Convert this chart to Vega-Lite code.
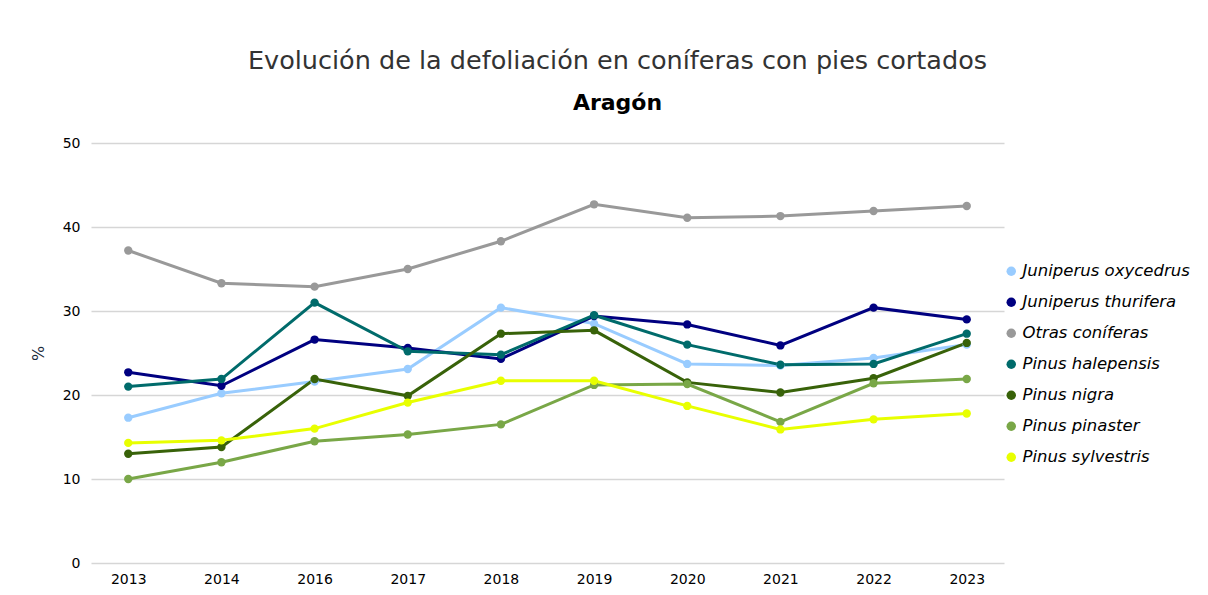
{
  "$schema": "https://vega.github.io/schema/vega-lite/v6.json",
  "width": 913,
  "height": 420,
  "autosize": {"type": "none"},
  "padding": {"left": 91, "top": 143, "right": 204, "bottom": 32},
  "background": "white",
  "title": {
    "text": "Evolución de la defoliación en coníferas con pies cortados",
    "subtitle": "Aragón",
    "anchor": "middle",
    "frame": "group",
    "dx": 70,
    "offset": 22,
    "font": "DejaVu Sans",
    "fontSize": 25.5,
    "fontWeight": "normal",
    "color": "#333333",
    "subtitleFont": "DejaVu Sans",
    "subtitleFontSize": 22,
    "subtitleFontWeight": "bold",
    "subtitleColor": "#000000",
    "subtitlePadding": 19
  },
  "data": {
    "values": [
      {"year": "2013", "species": "Juniperus oxycedrus", "value": 17.3},
      {"year": "2014", "species": "Juniperus oxycedrus", "value": 20.2},
      {"year": "2016", "species": "Juniperus oxycedrus", "value": 21.6},
      {"year": "2017", "species": "Juniperus oxycedrus", "value": 23.1},
      {"year": "2018", "species": "Juniperus oxycedrus", "value": 30.4},
      {"year": "2019", "species": "Juniperus oxycedrus", "value": 28.5},
      {"year": "2020", "species": "Juniperus oxycedrus", "value": 23.7},
      {"year": "2021", "species": "Juniperus oxycedrus", "value": 23.5},
      {"year": "2022", "species": "Juniperus oxycedrus", "value": 24.4},
      {"year": "2023", "species": "Juniperus oxycedrus", "value": 26.0},

      {"year": "2013", "species": "Juniperus thurifera", "value": 22.7},
      {"year": "2014", "species": "Juniperus thurifera", "value": 21.1},
      {"year": "2016", "species": "Juniperus thurifera", "value": 26.6},
      {"year": "2017", "species": "Juniperus thurifera", "value": 25.6},
      {"year": "2018", "species": "Juniperus thurifera", "value": 24.3},
      {"year": "2019", "species": "Juniperus thurifera", "value": 29.4},
      {"year": "2020", "species": "Juniperus thurifera", "value": 28.4},
      {"year": "2021", "species": "Juniperus thurifera", "value": 25.9},
      {"year": "2022", "species": "Juniperus thurifera", "value": 30.4},
      {"year": "2023", "species": "Juniperus thurifera", "value": 29.0},

      {"year": "2013", "species": "Otras coníferas", "value": 37.2},
      {"year": "2014", "species": "Otras coníferas", "value": 33.3},
      {"year": "2016", "species": "Otras coníferas", "value": 32.9},
      {"year": "2017", "species": "Otras coníferas", "value": 35.0},
      {"year": "2018", "species": "Otras coníferas", "value": 38.3},
      {"year": "2019", "species": "Otras coníferas", "value": 42.7},
      {"year": "2020", "species": "Otras coníferas", "value": 41.1},
      {"year": "2021", "species": "Otras coníferas", "value": 41.3},
      {"year": "2022", "species": "Otras coníferas", "value": 41.9},
      {"year": "2023", "species": "Otras coníferas", "value": 42.5},

      {"year": "2013", "species": "Pinus halepensis", "value": 21.0},
      {"year": "2014", "species": "Pinus halepensis", "value": 21.9},
      {"year": "2016", "species": "Pinus halepensis", "value": 31.0},
      {"year": "2017", "species": "Pinus halepensis", "value": 25.2},
      {"year": "2018", "species": "Pinus halepensis", "value": 24.8},
      {"year": "2019", "species": "Pinus halepensis", "value": 29.5},
      {"year": "2020", "species": "Pinus halepensis", "value": 26.0},
      {"year": "2021", "species": "Pinus halepensis", "value": 23.6},
      {"year": "2022", "species": "Pinus halepensis", "value": 23.7},
      {"year": "2023", "species": "Pinus halepensis", "value": 27.3},

      {"year": "2013", "species": "Pinus nigra", "value": 13.0},
      {"year": "2014", "species": "Pinus nigra", "value": 13.8},
      {"year": "2016", "species": "Pinus nigra", "value": 21.9},
      {"year": "2017", "species": "Pinus nigra", "value": 19.9},
      {"year": "2018", "species": "Pinus nigra", "value": 27.3},
      {"year": "2019", "species": "Pinus nigra", "value": 27.7},
      {"year": "2020", "species": "Pinus nigra", "value": 21.5},
      {"year": "2021", "species": "Pinus nigra", "value": 20.3},
      {"year": "2022", "species": "Pinus nigra", "value": 22.0},
      {"year": "2023", "species": "Pinus nigra", "value": 26.2},

      {"year": "2013", "species": "Pinus pinaster", "value": 10.0},
      {"year": "2014", "species": "Pinus pinaster", "value": 12.0},
      {"year": "2016", "species": "Pinus pinaster", "value": 14.5},
      {"year": "2017", "species": "Pinus pinaster", "value": 15.3},
      {"year": "2018", "species": "Pinus pinaster", "value": 16.5},
      {"year": "2019", "species": "Pinus pinaster", "value": 21.2},
      {"year": "2020", "species": "Pinus pinaster", "value": 21.3},
      {"year": "2021", "species": "Pinus pinaster", "value": 16.8},
      {"year": "2022", "species": "Pinus pinaster", "value": 21.4},
      {"year": "2023", "species": "Pinus pinaster", "value": 21.9},

      {"year": "2013", "species": "Pinus sylvestris", "value": 14.3},
      {"year": "2014", "species": "Pinus sylvestris", "value": 14.6},
      {"year": "2016", "species": "Pinus sylvestris", "value": 16.0},
      {"year": "2017", "species": "Pinus sylvestris", "value": 19.1},
      {"year": "2018", "species": "Pinus sylvestris", "value": 21.7},
      {"year": "2019", "species": "Pinus sylvestris", "value": 21.7},
      {"year": "2020", "species": "Pinus sylvestris", "value": 18.7},
      {"year": "2021", "species": "Pinus sylvestris", "value": 15.9},
      {"year": "2022", "species": "Pinus sylvestris", "value": 17.1},
      {"year": "2023", "species": "Pinus sylvestris", "value": 17.8}
    ]
  },
  "mark": {
    "type": "line",
    "strokeWidth": 3,
    "point": {"filled": true, "size": 70, "opacity": 1}
  },
  "encoding": {
    "x": {
      "field": "year",
      "type": "ordinal",
      "scale": {"type": "point", "padding": 0.4},
      "axis": {
        "title": null,
        "labelAngle": 0,
        "grid": false,
        "ticks": false,
        "domain": false,
        "labelFont": "DejaVu Sans",
        "labelFontSize": 14,
        "labelColor": "#000000",
        "labelPadding": 9
      }
    },
    "y": {
      "field": "value",
      "type": "quantitative",
      "scale": {"domain": [0, 50], "nice": false},
      "axis": {
        "title": "%",
        "titleFont": "DejaVu Sans",
        "titleFontSize": 16,
        "titleFontWeight": "normal",
        "titleColor": "#1a2a3a",
        "titlePadding": 16,
        "values": [0, 10, 20, 30, 40, 50],
        "grid": true,
        "gridColor": "#d6d6d6",
        "gridWidth": 1.5,
        "ticks": false,
        "domain": false,
        "labelFont": "DejaVu Sans",
        "labelFontSize": 14,
        "labelColor": "#000000",
        "labelPadding": 11
      }
    },
    "color": {
      "field": "species",
      "type": "nominal",
      "scale": {
        "domain": ["Juniperus oxycedrus", "Juniperus thurifera", "Otras coníferas", "Pinus halepensis", "Pinus nigra", "Pinus pinaster", "Pinus sylvestris"],
        "range": ["#99ccff", "#000080", "#999999", "#006b6b", "#386209", "#79a747", "#e8ff00"]
      },
      "legend": {
        "title": null,
        "orient": "none",
        "legendX": 912,
        "legendY": 120,
        "symbolType": "circle",
        "symbolSize": 90,
        "symbolStrokeWidth": 0,
        "symbolOpacity": 1,
        "labelFont": "DejaVu Sans",
        "labelFontSize": 16.5,
        "labelFontStyle": "italic",
        "labelColor": "#000000",
        "labelOffset": 3,
        "rowPadding": 14,
        "labelLimit": 300
      }
    }
  },
  "config": {
    "view": {"stroke": null}
  }
}
